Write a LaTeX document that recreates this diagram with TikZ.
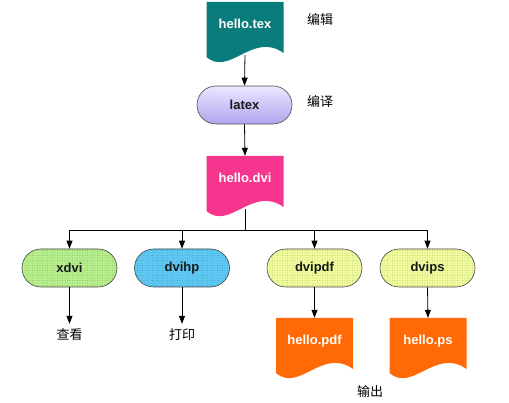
\documentclass[tikz,border=0pt]{standalone}
\usepackage{fontspec}
\setmainfont{Liberation Sans}
\newfontfamily\cjk{Noto Sans CJK SC}
\usetikzlibrary{arrows.meta,patterns.meta,backgrounds}
\definecolor{texteal}{HTML}{0A7C7C}
\definecolor{dvimag}{HTML}{F5358E}
\definecolor{outorange}{HTML}{FF6A06}
\definecolor{pillgreen}{HTML}{B6EE8C}
\definecolor{pillblue}{HTML}{5EC8F4}
\definecolor{pillyellow}{HTML}{F0FC9C}
\definecolor{lavtop}{HTML}{ECE6FF}
\definecolor{lavbot}{HTML}{B2A4EE}
\tikzset{
  docnode/.style={minimum width=77pt,minimum height=53pt,inner sep=0pt,
    text height=9pt,text depth=9pt,text=white,font=\bfseries\fontsize{13}{15}\selectfont},
  pill/.style={draw=black!75,line width=0.6pt,rounded corners=19pt,minimum width=95pt,
    minimum height=38pt,inner sep=0pt,font=\bfseries\fontsize{13}{15}\selectfont,text=black!90},
  dotted pill/.style={pill,fill=#1,
    postaction={pattern={Dots[radius=0.4pt,distance=2.5pt]},pattern color=#1!72!black}},
  cjklabel/.style={font=\cjk\fontsize{13}{15}\selectfont,inner sep=5pt},
  arr/.style={line width=0.8pt,-{Triangle[length=8pt,width=6pt]}},
  conn/.style={line width=0.8pt}
}
\newcommand{\mydoc}[5]{%
  \fill[#4] ({#2-38.5},{-#3}) -- ({#2+38.5},{-#3}) -- ({#2+38.5},{-#3-51})
    .. controls ({#2+7.7},{-#3-29}) and ({#2-15.4},{-#3-75}) .. ({#2-38.5},{-#3-55}) -- cycle;
  \node[docnode] (#1) at (#2,{-#3-26.5}) {#5};%
}
\begin{document}
\begin{tikzpicture}[x=1pt,y=1pt]
\useasboundingbox (0,0) rectangle (509,-403);
% documents
\mydoc{tex}{245}{2}{texteal}{hello.tex}
\mydoc{dvi}{245}{156}{dvimag}{hello.dvi}
\mydoc{pdf}{314.5}{318}{outorange}{hello.pdf}
\mydoc{ps}{428}{318}{outorange}{hello.ps}
% pills
\node[pill,top color=lavtop,bottom color=lavbot,draw=black!70] (latex) at (244.5,-105) {latex};
\node[dotted pill=pillgreen] (xdvi) at (69.5,-268) {xdvi};
\node[dotted pill=pillblue] (dvihp) at (182,-268) {dvihp};
\node[dotted pill=pillyellow] (dvipdf) at (314.5,-268) {dvipdf};
\node[dotted pill=pillyellow] (dvips) at (427.5,-268) {dvips};
% labels
\node[cjklabel] (edit) at (320,-20) {编辑};
\node[cjklabel] (compile) at (320,-102) {编译};
\node[cjklabel] (view) at (69.5,-335) {查看};
\node[cjklabel] (print) at (182,-335) {打印};
\node[cjklabel] (output) at (370,-392) {输出};
\coordinate (bus) at (245,-230);
% connectors
\draw[arr] (tex.south) -- (latex.north);
\draw[arr] (latex.south) -- (dvi.north);
\draw[conn] (dvi.south) -- (bus);
\draw[arr] (bus) -| (xdvi.north);
\draw[arr] (bus) -| (dvihp.north);
\draw[arr] (bus) -| (dvipdf.north);
\draw[arr] (bus) -| (dvips.north);
\draw[arr] (xdvi.south) -- (view.north);
\draw[arr] (dvihp.south) -- (print.north);
\draw[arr] (dvipdf.south) -- (pdf.north);
\draw[arr] (dvips.south) -- (ps.north);
\end{tikzpicture}
\end{document}
